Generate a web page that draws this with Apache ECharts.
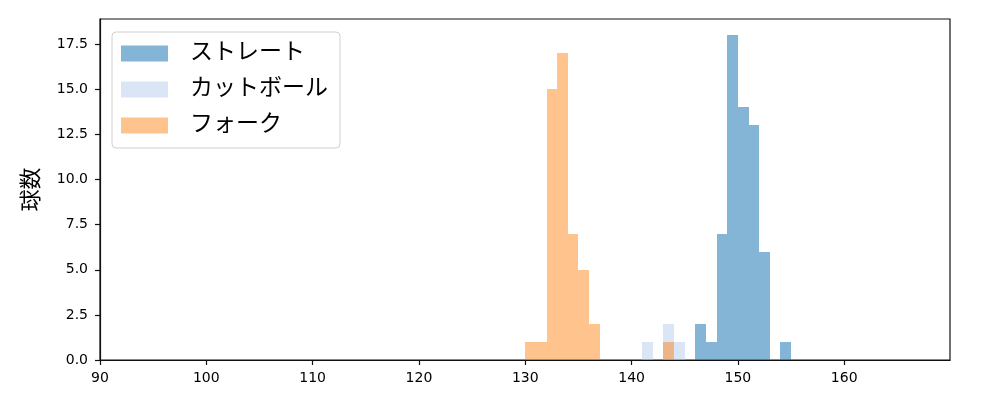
<!DOCTYPE html>
<html>
<head>
<meta charset="utf-8">
<script src="https://cdn.jsdelivr.net/npm/echarts@6/dist/echarts.min.js"></script>
<style>html,body{margin:0;padding:0;background:#fff}#c{width:1000px;height:400px}</style>
</head>
<body>
<div id="c"></div>
<script>
var seriesNames = ['ストレート', 'カットボール', 'フォーク'];
var straightStarts = [146, 147, 148, 149, 150, 151, 152, 154];
var straightCounts = [2, 1, 7, 18, 14, 13, 6, 1];
var cutStarts = [141, 143, 144];
var cutCounts = [1, 2, 1];
var forkStarts = [130, 131, 132, 133, 134, 135, 136, 143];
var forkCounts = [1, 1, 15, 17, 7, 5, 2, 1];
var binWidth = 1;
var xTicks = [90, 100, 110, 120, 130, 140, 150, 160];
var yTicks = [0, 2.5, 5, 7.5, 10, 12.5, 15, 17.5];

var FONT = '"DejaVu Sans", "Noto Sans CJK JP", sans-serif';
var colors = ['rgba(31,119,180,0.55)', 'rgba(174,199,232,0.45)', 'rgba(255,127,14,0.47)'];

function pairs(starts, counts) {
  return starts.map(function (s, i) { return [s, counts[i]]; });
}
function renderBar(params, api) {
  var x0 = api.value(0), y = api.value(1);
  var p0 = api.coord([x0, 0]);
  var p1 = api.coord([x0 + binWidth, y]);
  var xa = Math.round(p0[0]), xb = Math.round(p1[0]);
  var yb = Math.round(p0[1]), ya = Math.round(p1[1]);
  return {
    type: 'rect',
    shape: { x: xa, y: ya, width: xb - xa, height: yb - ya },
    style: { fill: api.visual('color') }
  };
}
var datas = [pairs(straightStarts, straightCounts), pairs(cutStarts, cutCounts), pairs(forkStarts, forkCounts)];

var chart = echarts.init(document.getElementById('c'), null, { renderer: 'canvas' });
chart.setOption({
  animation: false,
  textStyle: { fontFamily: FONT },
  grid: { left: 100, right: 50, top: 19, bottom: 40, show: true, borderColor: '#111', borderWidth: 1.2, backgroundColor: 'transparent' },
  legend: {
    orient: 'vertical', left: 112, top: 32,
    icon: 'rect', itemWidth: 47, itemHeight: 16, itemGap: 13,
    padding: [10, 12, 11, 9],
    borderColor: '#d0d0d0', borderWidth: 1, borderRadius: 4,
    backgroundColor: 'rgba(255,255,255,0.8)',
    textStyle: { fontSize: 23, lineHeight: 16, color: '#000', fontFamily: FONT, padding: [0, 0, 0, 17] },
    data: seriesNames
  },
  xAxis: {
    type: 'value', min: 90, max: 169.95, interval: 10,
    axisLine: { show: true, lineStyle: { color: '#111', width: 1.2 } },
    axisTick: { show: true, length: 5, customValues: xTicks, lineStyle: { color: '#111', width: 1.2 } },
    axisLabel: {
      fontSize: 14, color: '#000', fontFamily: FONT, margin: 11, customValues: xTicks,
      formatter: function (v) { return String(v); }
    },
    splitLine: { show: false }
  },
  yAxis: {
    type: 'value', min: 0, max: 18.9, interval: 2.5,
    name: '球数', nameLocation: 'middle', nameGap: 57, nameRotate: 90,
    nameTextStyle: { fontSize: 22, color: '#000', fontFamily: FONT },
    axisLine: { show: true, lineStyle: { color: '#111', width: 1.2 } },
    axisTick: { show: true, length: 5, customValues: yTicks, lineStyle: { color: '#111', width: 1.2 } },
    axisLabel: {
      fontSize: 14, color: '#000', fontFamily: FONT, margin: 12, customValues: yTicks,
      formatter: function (v) { return v.toFixed(1); }
    },
    splitLine: { show: false }
  },
  series: seriesNames.map(function (n, i) {
    return {
      name: n, type: 'custom', renderItem: renderBar,
      itemStyle: { color: colors[i] },
      encode: { x: 0, y: 1 },
      data: datas[i]
    };
  })
});
</script>
</body>
</html>
